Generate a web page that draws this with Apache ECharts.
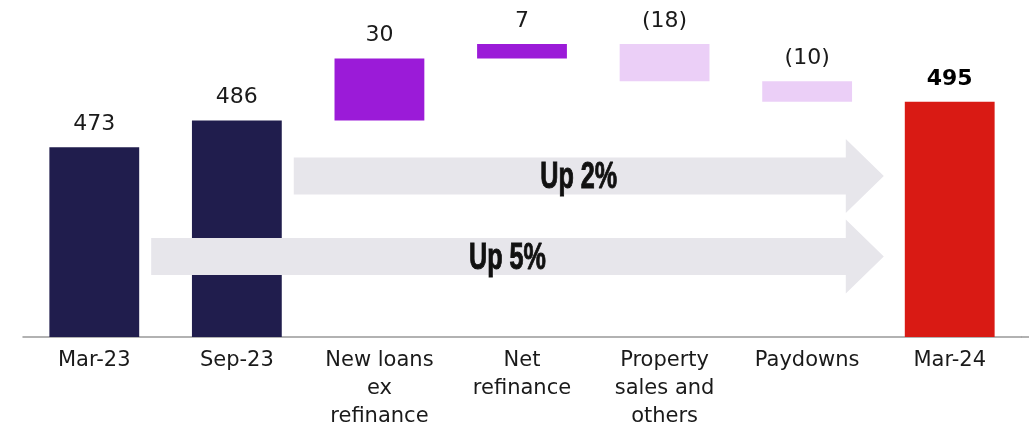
<!DOCTYPE html>
<html>
<head>
<meta charset="utf-8">
<script src="https://cdn.jsdelivr.net/npm/echarts@6/dist/echarts.min.js"></script>
<style>
  html, body { margin: 0; padding: 0; background: #fff; }
  #chart { width: 1029px; height: 437px; }
</style>
</head>
<body>
<div id="chart"></div>
<script>
// waterfall data
var categories = ['Mar-23', 'Sep-23', 'New loans\nex\nrefinance', 'Net\nrefinance', 'Property\nsales and\nothers', 'Paydowns', 'Mar-24'];
var values = [473, 486, 30, 7, -18, -10, 495];
var kinds = ['total', 'total', 'up', 'up', 'down', 'down', 'last'];

// growth arrows (annotations)
var arrowFrom = [1, 0];
var arrowTo = 6;
var arrowLevel = [459, 420];
var arrowText = ['Up 2%', 'Up 5%'];

var colors = { total: '#201d4d', up: '#9b1bd8', down: '#ebcff7', last: '#d91a14' };

// running total -> invisible base + visible part
var base = [], shown = [], running = 0;
for (var i = 0; i < values.length; i++) {
  var v = values[i];
  if (kinds[i] === 'total' || kinds[i] === 'last') {
    base.push(0); shown.push(v); running = v;
  } else if (v >= 0) {
    base.push(running); shown.push(v); running += v;
  } else {
    running += v; base.push(running); shown.push(-v);
  }
}

var chart = echarts.init(document.getElementById('chart'));

chart.setOption({
  animation: false,
  grid: { left: 23, right: 8, top: 9, bottom: 100 },
  xAxis: {
    type: 'category',
    data: categories,
    axisTick: { show: false },
    axisLine: { lineStyle: { color: '#999', width: 1.5 } },
    axisLabel: {
      interval: 0, margin: 10,
      fontFamily: 'DejaVu Sans', fontSize: 21, lineHeight: 28, color: '#1a1a1a'
    }
  },
  yAxis: { type: 'value', show: false, min: 381, max: 540 },
  series: [
    {
      type: 'bar', stack: 'wf', barWidth: '63%', silent: true,
      itemStyle: { color: 'transparent' },
      data: base
    },
    {
      type: 'bar', stack: 'wf', barWidth: '63%',
      data: shown.map(function (s, i) {
        return {
          value: s,
          itemStyle: { color: colors[kinds[i]] },
          label: kinds[i] === 'last' ? { fontWeight: 'bold', color: '#000' } : undefined
        };
      }),
      label: {
        show: true, position: 'top', distance: 12,
        fontFamily: 'DejaVu Sans', fontSize: 22, color: '#1a1a1a',
        formatter: function (p) {
          var v = values[p.dataIndex];
          return v < 0 ? '(' + (-v) + ')' : String(v);
        }
      }
    }
  ]
});

// arrows placed from the axis scales
var c0 = chart.convertToPixel({ xAxisIndex: 0 }, categories[0]);
var c1 = chart.convertToPixel({ xAxisIndex: 0 }, categories[1]);
var halfBar = (c1 - c0) * 0.63 / 2;
var tipX = chart.convertToPixel({ xAxisIndex: 0 }, categories[arrowTo]) - halfBar - 21;
var graphics = [];
arrowLevel.forEach(function (lvl, k) {
  var y = chart.convertToPixel({ yAxisIndex: 0 }, lvl);
  var x0 = chart.convertToPixel({ xAxisIndex: 0 }, categories[arrowFrom[k]]) + halfBar + 12;
  var xh = tipX - 38;
  graphics.push({
    type: 'polygon', z: 10, silent: true,
    shape: { points: [[x0, y - 18.5], [xh, y - 18.5], [xh, y - 37], [tipX, y], [xh, y + 37], [xh, y + 18.5], [x0, y + 18.5]] },
    style: { fill: '#e7e6eb' }
  });
  graphics.push({
    type: 'text', z: 11, silent: true,
    x: (x0 + xh) / 2 + 9, y: y + 2, scaleX: 0.68,
    style: {
      text: arrowText[k], fontFamily: 'Liberation Sans', fontWeight: 'bold',
      fontSize: 37, fill: '#111', stroke: '#111', lineWidth: 1,
      align: 'center', verticalAlign: 'middle'
    }
  });
});
// axis line runs to the right edge in the source
graphics.push({
  type: 'line', z: 1, silent: true,
  shape: { x1: chart.getWidth() - 8, y1: chart.convertToPixel({ yAxisIndex: 0 }, 381), x2: chart.getWidth(), y2: chart.convertToPixel({ yAxisIndex: 0 }, 381) },
  style: { stroke: '#999', lineWidth: 1.5 }
});
chart.setOption({ graphic: graphics });
</script>
</body>
</html>
